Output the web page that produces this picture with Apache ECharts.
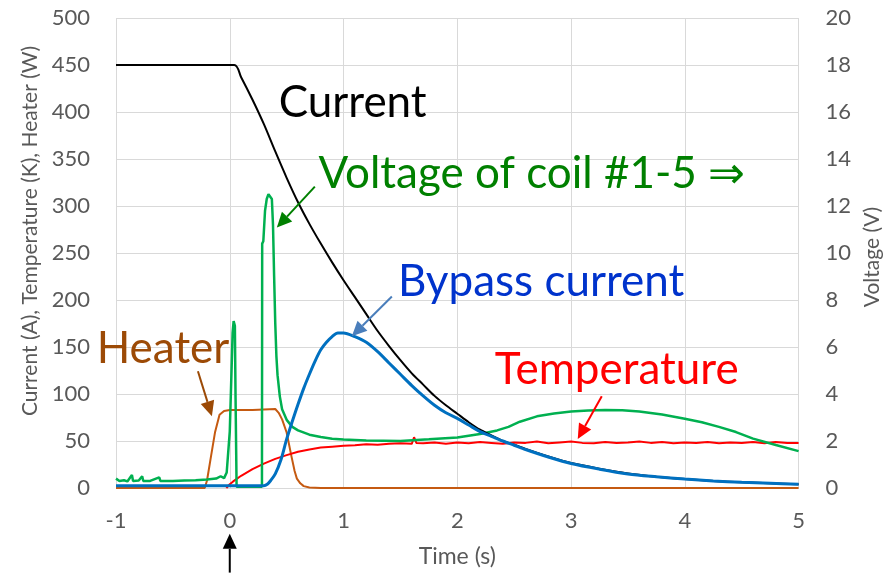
<!DOCTYPE html>
<html>
<head>
<meta charset="utf-8">
<script src="https://cdn.jsdelivr.net/npm/echarts@6/dist/echarts.min.js"></script>
<style>
html,body{margin:0;padding:0;background:#fff;}
#c{width:891px;height:573px;}
</style>
</head>
<body>
<div id="c"></div>
<script>
// ---- data (time in s) ----
const xTicks = [-1, 0, 1, 2, 3, 4, 5];
const currentData = [[-1,450],[0.04,450],[0.1,437],[0.2,413],[0.3,387],[0.4,358],[0.5,330],[0.6,304],[0.7,281],[0.8,260],[0.9,240],[1.0,221],[1.1,203],[1.2,185],[1.3,167],[1.4,151],[1.5,136],[1.6,122],[1.7,110],[1.8,98],[1.9,88],[2.0,79],[2.1,70],[2.2,62],[2.3,56],[2.4,50],[2.5,46],[2.6,41.5],[2.8,33.5],[3.0,26.5],[3.25,20.5],[3.5,15.5],[3.75,12],[4.0,9.5],[4.25,7.5],[4.5,6],[4.75,5],[5.0,4]];
const bypassData = [[-1,2.5],[-0.5,2.5],[0,2.5],[0.3,2.5],[0.33,4],[0.36,8],[0.4,15],[0.45,30],[0.5,52],[0.55,71],[0.6,89],[0.65,106],[0.7,121],[0.75,135],[0.8,147],[0.85,155],[0.9,161],[0.95,165],[1.0,165],[1.1,161],[1.2,155],[1.3,145],[1.4,133],[1.5,121],[1.6,109],[1.7,98],[1.8,88],[1.9,80],[2.0,74],[2.1,67],[2.2,60],[2.3,55],[2.4,50],[2.5,45.5],[2.6,41],[2.8,33],[3.0,26],[3.25,20],[3.5,15],[3.75,12],[4.0,9.5],[4.25,7.5],[4.5,6],[4.75,5],[5.0,4]];
const heaterData = [[-1,0],[-0.22,0],[-0.2,8],[-0.17,30],[-0.13,59],[-0.09,78],[-0.05,82],[0,83],[0.2,83],[0.4,84],[0.43,80],[0.46,73],[0.5,59],[0.54,35],[0.57,18],[0.59,10],[0.62,5],[0.65,2],[0.7,0.5],[0.8,0],[5,0]];
const temperatureData = [[-0.03,0],[0.0,4],[0.03,7],[0.1,13],[0.2,20],[0.3,26],[0.4,31],[0.5,35],[0.6,38.5],[0.7,41],[0.8,43],[0.9,44],[1.0,45],[1.1,45.5],[1.2,46.5],[1.3,46],[1.4,47],[1.5,47.5],[1.6,47],[1.62,54],[1.64,48],[1.7,47.5],[1.8,48.5],[1.9,47],[2.0,48.5],[2.1,47.5],[2.2,49],[2.3,48],[2.4,47],[2.5,48.5],[2.6,48],[2.7,49.5],[2.8,47.5],[2.9,48.5],[3.0,49.5],[3.1,48],[3.2,47.5],[3.3,49],[3.4,48],[3.5,48.5],[3.6,49.5],[3.7,48],[3.8,49],[3.9,47.5],[4.0,48.5],[4.1,48],[4.2,49],[4.3,47.5],[4.4,48.5],[4.5,48],[4.6,49],[4.7,47.5],[4.8,49],[4.9,48],[5.0,48]];
const voltageData = [[-1,0.4],[-0.97,0.3],[-0.93,0.33],[-0.9,0.28],[-0.86,0.55],[-0.85,0.3],[-0.8,0.32],[-0.77,0.5],[-0.76,0.3],[-0.7,0.3],[-0.62,0.45],[-0.61,0.3],[-0.5,0.3],[-0.4,0.32],[-0.3,0.33],[-0.2,0.36],[-0.12,0.4],[-0.08,0.5],[-0.05,0.42],[-0.027,0.66],[0.0,2.4],[0.025,6.6],[0.034,7.1],[0.045,6.9],[0.051,3.8],[0.06,0.05],[0.283,0.05],[0.285,10.4],[0.295,10.5],[0.31,11.8],[0.325,12.3],[0.34,12.5],[0.355,12.55],[0.37,12.3],[0.38,11.2],[0.39,9],[0.40,7],[0.41,5.6],[0.42,4.8],[0.44,3.9],[0.46,3.35],[0.5,2.9],[0.55,2.6],[0.6,2.45],[0.7,2.27],[0.8,2.17],[0.9,2.1],[1.0,2.06],[1.2,2.02],[1.5,2.0],[1.75,2.07],[2.0,2.15],[2.2,2.3],[2.35,2.45],[2.45,2.6],[2.55,2.82],[2.7,3.05],[2.85,3.17],[3.0,3.26],[3.15,3.3],[3.3,3.32],[3.45,3.31],[3.6,3.26],[3.8,3.13],[4.0,2.95],[4.15,2.8],[4.3,2.6],[4.45,2.38],[4.6,2.1],[4.8,1.83],[5.0,1.57]];

// annotations in data coordinates (left axis units)
const labels = [
  {text:'Current', x:0.43, y:410, color:'#000000'},
  {text:'Voltage of coil #1-5 \u21D2', x:0.78, y:334, color:'#008000'},
  {text:'Bypass current', x:1.478, y:219, color:'#0033cc'},
  {text:'Temperature', x:2.33, y:126, color:'#ff0000'},
  {text:'Heater', x:-1.17, y:148, color:'#9c4a06'}
];
const arrows = [
  {from:[0.748,320.6], to:[0.414,277], color:'#008000'},
  {from:[1.425,203.8], to:[1.073,161.4], color:'#4a7ebb'},
  {from:[3.27,97.7], to:[3.059,52], color:'#ff0000'},
  {from:[-0.28,124.2], to:[-0.157,76.4], color:'#9c4a06'},
  {from:[0.0,-90], to:[0.0,-48.8], color:'#000000'}
];

const FONT = 'Lato';
const GRAY = '#595959';
const chart = echarts.init(document.getElementById('c'), null, {renderer:'canvas'});
const option = {
  animation:false,
  backgroundColor:'#fff',
  textStyle:{fontFamily:FONT},
  grid:{left:116, right:92, top:18, bottom:84},
  xAxis:{
    type:'value', min:-1, max:5, interval:1,
    name:'Time (s)', nameLocation:'middle', nameGap:57,
    nameTextStyle:{color:GRAY, fontSize:23, fontFamily:FONT},
    axisLine:{show:false}, axisTick:{show:false},
    axisLabel:{color:GRAY, fontSize:22, fontFamily:FONT, margin:22},
    splitLine:{show:true, lineStyle:{color:'#d9d9d9', width:1}}
  },
  yAxis:[{
    type:'value', min:0, max:500, interval:50,
    name:'Current (A), Temperature (K), Heater (W)', nameLocation:'middle', nameGap:74,
    nameTextStyle:{color:GRAY, fontSize:21, fontFamily:FONT, padding:[0,0,0,44]},
    axisLine:{show:false}, axisTick:{show:false},
    axisLabel:{color:GRAY, fontSize:22, fontFamily:FONT, margin:26},
    splitLine:{show:true, lineStyle:{color:'#d9d9d9', width:1}}
  },{
    type:'value', min:0, max:20, interval:2,
    name:'Voltage (V)', nameLocation:'middle', nameGap:61,
    nameTextStyle:{color:GRAY, fontSize:21, fontFamily:FONT, padding:[0,8,0,0]},
    axisLine:{show:false}, axisTick:{show:false},
    axisLabel:{color:GRAY, fontSize:22, fontFamily:FONT, margin:27},
    splitLine:{show:false}
  }],
  series:[
    {name:'Heater', type:'line', data:heaterData, showSymbol:false, symbol:'none', lineStyle:{color:'#c55a11', width:2}, z:2},
    {name:'Temperature', type:'line', data:temperatureData, showSymbol:false, symbol:'none', lineStyle:{color:'#ff0000', width:2}, z:3},
    {name:'Voltage', type:'line', yAxisIndex:1, data:voltageData, showSymbol:false, symbol:'none', lineStyle:{color:'#00b050', width:2.5}, z:4},
    {name:'Current', type:'line', data:currentData, showSymbol:false, symbol:'none', smooth:0.3, lineStyle:{color:'#000000', width:2}, z:5},
    {name:'Bypass current', type:'line', data:bypassData, showSymbol:false, symbol:'none', smooth:0.3, lineStyle:{color:'#0070c0', width:3}, z:6}
  ]
};
chart.setOption(option);

function px(p){ return chart.convertToPixel({xAxisIndex:0, yAxisIndex:0}, p); }
const g = [];
labels.forEach(l => {
  const p = px([l.x, l.y]);
  g.push({type:'text', x:p[0], y:p[1], z:100,
    style:{text:l.text, fill:l.color, font:'44px ' + FONT, textAlign:'left', textVerticalAlign:'middle', verticalAlign:'middle'}});
});
arrows.forEach(a => {
  const p1 = px(a.from), p2 = px(a.to);
  const dx = p2[0]-p1[0], dy = p2[1]-p1[1];
  const len = Math.sqrt(dx*dx+dy*dy);
  const ux = dx/len, uy = dy/len, nx = -uy, ny = ux;
  const L = 15, W = 7;
  const bx = p2[0]-L*ux, by = p2[1]-L*uy;
  g.push({type:'line', z:100, shape:{x1:p1[0], y1:p1[1], x2:bx, y2:by}, style:{stroke:a.color, lineWidth:2}});
  g.push({type:'polygon', z:100, shape:{points:[[p2[0],p2[1]],[bx+W*nx,by+W*ny],[bx-W*nx,by-W*ny]]}, style:{fill:a.color}});
});
chart.setOption({graphic:g});
</script>
</body>
</html>
